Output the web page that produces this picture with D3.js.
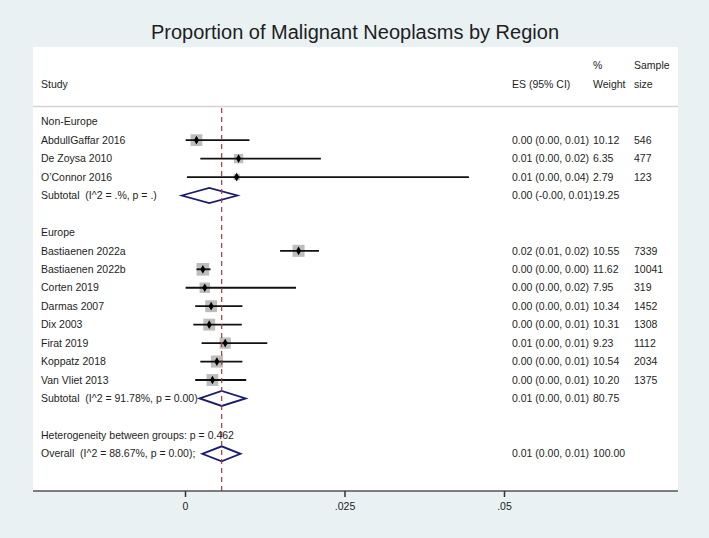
<!DOCTYPE html>
<html>
<head>
<meta charset="utf-8">
<script src="https://cdn.jsdelivr.net/npm/d3@7"></script>
<style>
  body { margin: 0; background: #e9f1f3; }
  svg text { font-family: "Liberation Sans", Arial, Helvetica, sans-serif; fill: #1e1e1e; white-space: pre; }
</style>
</head>
<body>
<svg width="709" height="538"></svg>
<script>
// données : groupe hors Europe
const etudes1 = ["AbdullGaffar 2016", "De Zoysa 2010", "O\u2019Connor 2016"];
const es1 = [0.0018, 0.0084, 0.0081];
const bas1 = [0.0001, 0.0024, 0.0003];
const haut1 = [0.0101, 0.0213, 0.0445];
const poids1 = [10.12, 6.35, 2.79];
const taille1 = [546, 477, 123];
const ic1 = ["0.00 (0.00, 0.01)", "0.01 (0.00, 0.02)", "0.01 (0.00, 0.04)"];

// données : groupe Europe
const etudes2 = ["Bastiaenen 2022a", "Bastiaenen 2022b", "Corten 2019", "Darmas 2007",
                 "Dix 2003", "Firat 2019", "Koppatz 2018", "Van Vliet 2013"];
const es2 = [0.0178, 0.0028, 0.0031, 0.0041, 0.0038, 0.0063, 0.0050, 0.0043];
const bas2 = [0.0149, 0.0018, 0.0001, 0.0016, 0.0013, 0.0026, 0.0024, 0.0016];
const haut2 = [0.0210, 0.0040, 0.0174, 0.0090, 0.0089, 0.0129, 0.0090, 0.0096];
const poids2 = [10.55, 11.62, 7.95, 10.34, 10.31, 9.23, 10.54, 10.20];
const taille2 = [7339, 10041, 319, 1452, 1308, 1112, 2034, 1375];
const ic2 = ["0.02 (0.01, 0.02)", "0.00 (0.00, 0.00)", "0.00 (0.00, 0.02)", "0.00 (0.00, 0.01)",
             "0.00 (0.00, 0.01)", "0.01 (0.00, 0.01)", "0.00 (0.00, 0.01)", "0.00 (0.00, 0.01)"];

// estimations combinées (sous-totaux et global)
const combines = [
  {ligne: 4,  label: "Subtotal  (I^2 = .%, p = .)",        es: 0.0038,  bas: -0.0005, haut: 0.0082, ic: "0.00 (-0.00, 0.01)", poids: "19.25"},
  {ligne: 15, label: "Subtotal  (I^2 = 91.78%, p = 0.00)", es: 0.00575, bas: 0.0023,  haut: 0.0095, ic: "0.01 (0.00, 0.01)",  poids: "80.75"},
  {ligne: 18, label: "Overall  (I^2 = 88.67%, p = 0.00);", es: 0.00575, bas: 0.0027,  haut: 0.0087, ic: "0.01 (0.00, 0.01)",  poids: "100.00"}
];
const titresGroupes = [{ligne: 0, label: "Non-Europe"}, {ligne: 6, label: "Europe"},
                       {ligne: 17, label: "Heterogeneity between groups: p = 0.462"}];
const graduations = [0, 0.025, 0.05];
const etiquettesGrad = ["0", ".025", ".05"];

// construire les lignes d'études
const etudes = [];
etudes1.forEach((n, i) => etudes.push({ligne: 1 + i, label: n, es: es1[i], bas: bas1[i], haut: haut1[i], poids: poids1[i], n: taille1[i], ic: ic1[i]}));
etudes2.forEach((n, i) => etudes.push({ligne: 7 + i, label: n, es: es2[i], bas: bas2[i], haut: haut2[i], poids: poids2[i], n: taille2[i], ic: ic2[i]}));

const svg = d3.select('svg');

// échelles
const x = d3.scaleLinear().domain([0, 0.05]).range([185, 504]);
const y = d3.scaleLinear().domain([0, 18]).range([121.7, 453.8]);
const cote = d3.scaleSqrt().domain([0, 10]).range([0, 11.7]);

// fond blanc du graphique
svg.append('rect').attr('x', 33).attr('y', 47).attr('width', 645).attr('height', 444).attr('fill', '#fff');

// titre
svg.append('text').attr('x', 355).attr('y', 39).attr('text-anchor', 'middle')
  .style('font-size', '20px').text('Proportion of Malignant Neoplasms by Region');

// en-têtes
const entetes = [
  {x: 41, y: 84, t: "Study"}, {x: 512, y: 84, t: "ES (95% CI)"},
  {x: 593, y: 65, t: "%"}, {x: 593, y: 84, t: "Weight"},
  {x: 634, y: 65, t: "Sample"}, {x: 634, y: 84, t: "size"}
];
svg.selectAll('.entete').data(entetes).join('text')
  .attr('x', d => d.x).attr('y', d => d.y).attr('dy', '0.35em')
  .style('font-size', '10.5px').text(d => d.t);

svg.append('line').attr('x1', 33).attr('x2', 678).attr('y1', 106.5).attr('y2', 106.5)
  .attr('stroke', '#d4d4d4').attr('stroke-width', 1.5);

// carrés de poids
svg.selectAll('.boite').data(etudes).join('rect')
  .attr('x', d => x(d.es) - cote(d.poids) / 2).attr('y', d => y(d.ligne) - cote(d.poids) / 2)
  .attr('width', d => cote(d.poids)).attr('height', d => cote(d.poids))
  .attr('fill', '#bdbdbd');

// intervalles de confiance
svg.selectAll('.ic').data(etudes).join('line')
  .attr('x1', d => x(d.bas)).attr('x2', d => x(d.haut))
  .attr('y1', d => y(d.ligne)).attr('y2', d => y(d.ligne))
  .attr('stroke', '#111').attr('stroke-width', 1.8);

// estimations ponctuelles
svg.selectAll('.pt').data(etudes).join('path')
  .attr('transform', d => `translate(${x(d.es)},${y(d.ligne)})`)
  .attr('d', d3.symbol(d3.symbolDiamond, 22)).attr('fill', '#000');

// losanges
svg.selectAll('.losange').data(combines).join('path')
  .attr('d', d => `M${x(d.bas)},${y(d.ligne)}L${x(d.es)},${y(d.ligne) - 7.5}L${x(d.haut)},${y(d.ligne)}L${x(d.es)},${y(d.ligne) + 7.5}Z`)
  .attr('fill', 'none').attr('stroke', '#1c1c6c').attr('stroke-width', 1.8);

// ligne de l'effet global
svg.append('line').attr('x1', x(combines[2].es)).attr('x2', x(combines[2].es))
  .attr('y1', 108).attr('y2', 491)
  .attr('stroke', '#a03c3c').attr('stroke-width', 1.2).attr('stroke-dasharray', '5,4');

// textes des lignes
const toutes = etudes.concat(combines, titresGroupes);
svg.selectAll('.lab').data(toutes).join('text')
  .attr('x', 41).attr('y', d => y(d.ligne)).attr('dy', '0.35em')
  .style('font-size', '10.5px').text(d => d.label);
svg.selectAll('.es').data(etudes.concat(combines)).join('text')
  .attr('x', 512).attr('y', d => y(d.ligne)).attr('dy', '0.35em')
  .style('font-size', '10.5px').text(d => d.ic);
svg.selectAll('.poids').data(etudes.concat(combines)).join('text')
  .attr('x', 593).attr('y', d => y(d.ligne)).attr('dy', '0.35em')
  .style('font-size', '10.5px').text(d => typeof d.poids === 'number' ? d.poids.toFixed(2) : d.poids);
svg.selectAll('.taille').data(etudes).join('text')
  .attr('x', 634).attr('y', d => y(d.ligne)).attr('dy', '0.35em')
  .style('font-size', '10.5px').text(d => d.n);

// axe
svg.append('line').attr('x1', 33).attr('x2', 678).attr('y1', 491).attr('y2', 491)
  .attr('stroke', '#555').attr('stroke-width', 1.6);
const axe = svg.append('g').attr('transform', 'translate(0,491)')
  .call(d3.axisBottom(x).tickValues(graduations).tickSize(6).tickPadding(6)
    .tickFormat((d, i) => etiquettesGrad[i]));
axe.select('.domain').remove();
axe.selectAll('line').attr('stroke', '#333').attr('stroke-width', 1.5);
axe.selectAll('text').style('font-size', '10.5px')
  .style('font-family', '"Liberation Sans", Arial, sans-serif').attr('fill', '#1e1e1e');
</script>
</body>
</html>
